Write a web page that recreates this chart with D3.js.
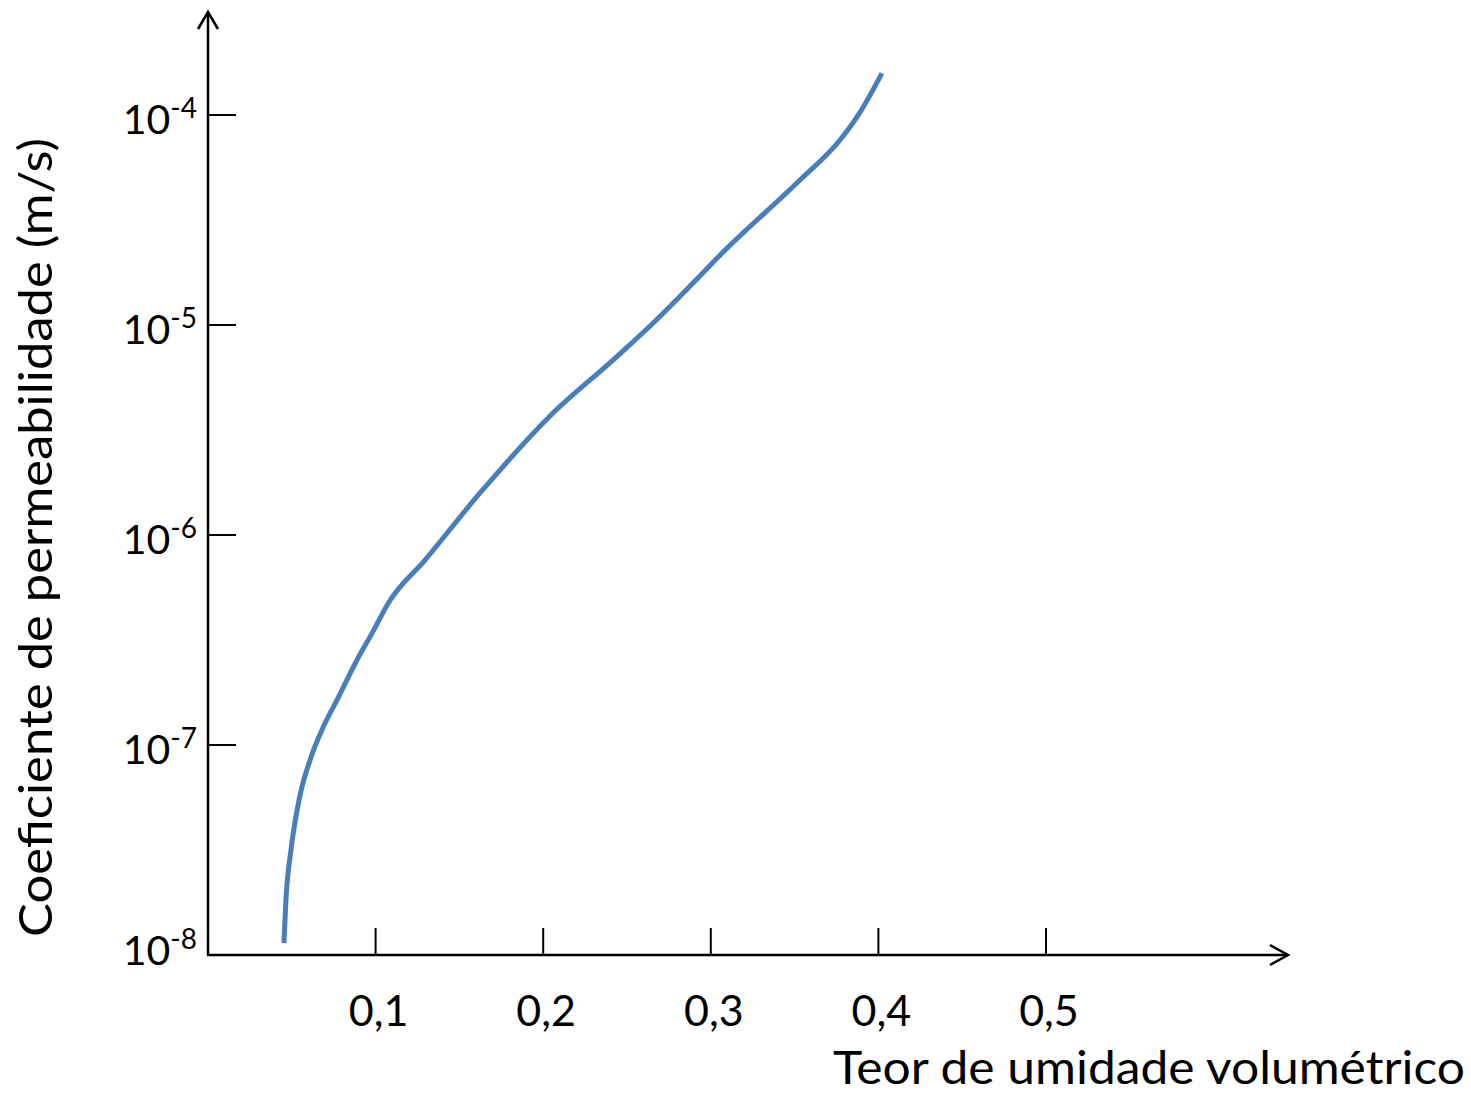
<!DOCTYPE html>
<html>
<head>
<meta charset="utf-8">
<script src="https://cdn.jsdelivr.net/npm/d3@7"></script>
<style>
  html, body { margin: 0; padding: 0; background: #fff; }
  svg { display: block; }
  text { font-family: Lato, "Open Sans", sans-serif; fill: #000; }
</style>
</head>
<body>
<svg id="chart" width="1471" height="1093"></svg>
<script>
// ---- data ----
const theta = [0.0453, 0.0465, 0.0495, 0.0543, 0.0609, 0.0680, 0.0770, 0.0889, 0.0979, 0.1080,
               0.1295, 0.1623, 0.2041, 0.2416, 0.2655, 0.2894, 0.3055, 0.3532, 0.3771, 0.3890, 0.4021];
const permeability = [1.14e-8, 1.83e-8, 3.16e-8, 5.47e-8, 8.49e-8, 1.18e-7, 1.64e-7, 2.54e-7, 3.41e-7, 4.80e-7,
                      7.60e-7, 1.585e-6, 3.69e-6, 6.81e-6, 1.02e-5, 1.585e-5, 2.15e-5, 4.90e-5, 7.60e-5, 1.03e-4, 1.58e-4];
const xTicks = [0.1, 0.2, 0.3, 0.4, 0.5];
const xTickLabels = ["0,1", "0,2", "0,3", "0,4", "0,5"];
const yTicks = [1e-8, 1e-7, 1e-6, 1e-5, 1e-4];
const yTickExponents = ["-8", "-7", "-6", "-5", "-4"];
const xTitle = "Teor de umidade volumétrico";
const yTitle = "Coeficiente de permeabilidade  (m/s)";

// ---- layout ----
const svg = d3.select("#chart");
const x0 = 208, y0 = 955;
const x = d3.scaleLinear().domain([0, 0.5]).range([x0, 1046]);
const y = d3.scaleLog().domain([1e-8, 1e-4]).range([y0, 115]);

const axisColor = "#000";
// y axis line + arrow
svg.append("line").attr("x1", x0).attr("y1", y0).attr("x2", x0).attr("y2", 12)
  .attr("stroke", axisColor).attr("stroke-width", 2.5);
svg.append("path").attr("d", `M${x0-10},29 L${x0},12 L${x0+10},29`)
  .attr("fill", "none").attr("stroke", axisColor).attr("stroke-width", 2.5);
// x axis line + arrow
svg.append("line").attr("x1", x0 - 1).attr("y1", y0).attr("x2", 1288).attr("y2", y0)
  .attr("stroke", axisColor).attr("stroke-width", 2.5);
svg.append("path").attr("d", `M1270,945 L1288,${y0} L1270,965`)
  .attr("fill", "none").attr("stroke", axisColor).attr("stroke-width", 2.5);

// y ticks
const yg = svg.append("g");
yg.selectAll("line").data(yTicks.filter(d => d > 1e-8)).join("line")
  .attr("x1", x0).attr("x2", x0 + 28)
  .attr("y1", d => y(d)).attr("y2", d => y(d))
  .attr("stroke", axisColor).attr("stroke-width", 2);
const yl = yg.selectAll("text").data(yTicks).join("text")
  .attr("x", 197).attr("y", d => y(d) + (d === 1e-8 ? 10 : 19))
  .attr("text-anchor", "end")
  .style("font-size", "41px");
yl.append("tspan").text("10");
yl.append("tspan").text((d, i) => yTickExponents[i])
  .attr("dy", -16).style("font-size", "28px");

// x ticks
const xg = svg.append("g");
xg.selectAll("line").data(xTicks).join("line")
  .attr("x1", d => x(d)).attr("x2", d => x(d))
  .attr("y1", y0 - 27).attr("y2", y0)
  .attr("stroke", axisColor).attr("stroke-width", 2);
xg.selectAll("text").data(xTicks).join("text")
  .attr("x", d => x(d) + 3).attr("y", 1026)
  .attr("text-anchor", "middle")
  .style("font-size", "43px")
  .text((d, i) => xTickLabels[i]);

// axis titles
svg.append("text").attr("x", 833).attr("y", 1084)
  .attr("textLength", 632).attr("lengthAdjust", "spacingAndGlyphs")
  .style("font-size", "46px").text(xTitle);
svg.append("text")
  .attr("transform", "translate(52,937) rotate(-90)")
  .attr("textLength", 799).attr("lengthAdjust", "spacingAndGlyphs")
  .style("font-size", "46px").text(yTitle);

// curve
const pts = theta.map((t, i) => [t, permeability[i]]);
const line = d3.line().x(d => x(d[0])).y(d => y(d[1])).curve(d3.curveMonotoneX);
svg.append("path").datum(pts).attr("d", line)
  .attr("fill", "none").attr("stroke", "#4a7ebb").attr("stroke-width", 5);
</script>
</body>
</html>
